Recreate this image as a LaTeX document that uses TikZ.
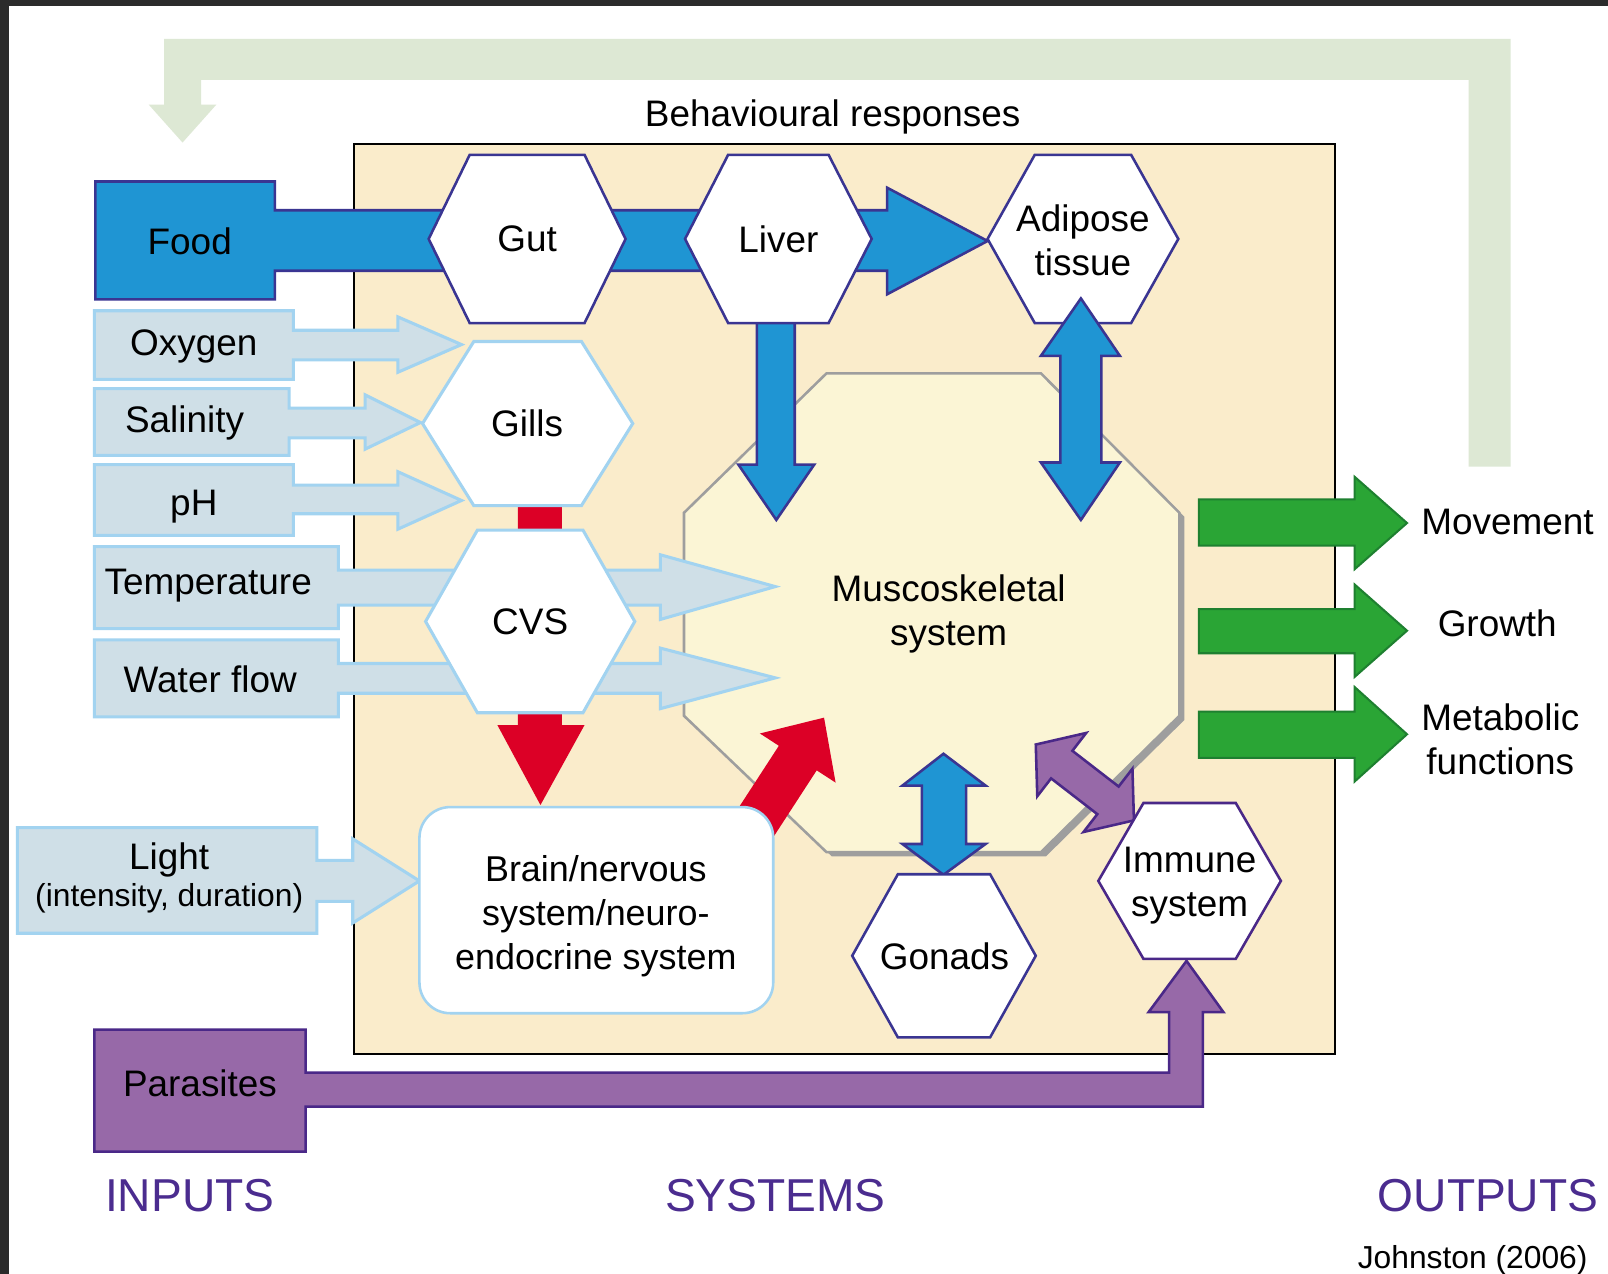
\documentclass[tikz,border=0pt]{standalone}
\usepackage{fontspec}
\setmainfont{Liberation Sans}

\definecolor{darkframe}{HTML}{2B2B2B}
\definecolor{paleleaf}{HTML}{DDE8D4}
\definecolor{sand}{HTML}{FAECCB}
\definecolor{cream}{HTML}{FBF5D5}
\definecolor{stone}{HTML}{9E9E9E}
\definecolor{sea}{HTML}{1F95D3}
\definecolor{navy}{HTML}{3A3592}
\definecolor{mist}{HTML}{CFDFE7}
\definecolor{sky}{HTML}{A2D3F0}
\definecolor{blood}{HTML}{DC0026}
\definecolor{leaf}{HTML}{2AA535}
\definecolor{darkleaf}{HTML}{1E8030}
\definecolor{plum}{HTML}{9769A8}
\definecolor{darkplum}{HTML}{4A2888}
\definecolor{ink}{HTML}{4B2C8F}

\tikzset{
  feedback/.style={fill=paleleaf},
  sysbox/.style={draw=black,line width=2pt,fill=sand},
  musclebox/.style={draw=stone,line width=2.5pt,fill=cream},
  foodflow/.style={draw=navy,line width=2.5pt,fill=sea},
  inflow/.style={draw=sky,line width=3pt,fill=mist},
  redflow/.style={fill=blood},
  blueflow/.style={draw=navy,line width=2.5pt,fill=sea},
  purpleflow/.style={draw=darkplum,line width=2.5pt,fill=plum},
  outflow/.style={draw=darkleaf,line width=2pt,fill=leaf},
  hexnavy/.style={draw=navy,line width=2.5pt,fill=white},
  hexsky/.style={draw=sky,line width=3pt,fill=white},
  hexviolet/.style={draw=darkplum,line width=2.5pt,fill=white},
  brainbox/.style={draw=sky,line width=2.5pt,fill=white,rounded corners=30pt},
  lbl/.style={font=\fontsize{36}{43}\selectfont,align=center,inner sep=0pt,text depth=0pt},
  sublbl/.style={font=\fontsize{31}{36}\selectfont,align=center,inner sep=0pt,text depth=0pt},
  headlbl/.style={font=\fontsize{45}{50}\selectfont,text=ink,inner sep=0pt,text depth=0pt}
}

% hexagon: style, centre x, centre y, half width, half top edge, half height
\newcommand{\hexcell}[6]{\draw[#1] ({#2-#4},#3) -- ({#2-#5},{#3-#6}) -- ({#2+#5},{#3-#6})
  -- ({#2+#4},#3) -- ({#2+#5},{#3+#6}) -- ({#2-#5},{#3+#6}) -- cycle;}

\begin{document}
\begin{tikzpicture}[x=1pt,y=-1pt]
        \useasboundingbox (0,0) rectangle (1568,1242);
        \fill[white] (0,0) rectangle (1568,1242);
        \fill[darkframe] (0,0) rectangle (1568,6);
        \fill[darkframe] (0,0) rectangle (9,1242);
        % draw the behaviour loop
        \fill[feedback] (1432,455) -- (1432,78) -- (196,78) -- (196,102) -- (211,102) -- (178,139)
          -- (145,102) -- (160,102) -- (160,38) -- (1473,38) -- (1473,455) -- cycle;
        % draw the systems box and the octagon
        \draw[sysbox] (345,140) rectangle (1302,1028);
        \begin{scope}[shift={(5,4)}]
          \fill[stone] (806,364) -- (1015,364) -- (1150,500) -- (1150,698) -- (1015,831) -- (806,831) -- (667,698) -- (667,500) -- cycle;
        \end{scope}
        \draw[musclebox] (806,364) -- (1015,364) -- (1150,500) -- (1150,698) -- (1015,831) -- (806,831) -- (667,698) -- (667,500) -- cycle;
        % food path
        \draw[foodflow] (93,177) -- (268,177) -- (268,205) -- (865,205) -- (865,183) -- (963,235) -- (865,287)
          -- (865,264) -- (268,264) -- (268,292) -- (93,292) -- cycle;
        % environmental inputs
        \draw[inflow] (92,303) -- (286,303) -- (286,322) -- (388,322) -- (388,309) -- (450,336) -- (388,363) -- (388,351) -- (286,351) -- (286,370) -- (92,370) -- cycle;
        \draw[inflow] (92,379) -- (282,379) -- (282,398) -- (356,398) -- (356,385) -- (410,412) -- (356,438) -- (356,427) -- (282,427) -- (282,444) -- (92,444) -- cycle;
        \draw[inflow] (92,453) -- (286,453) -- (286,473) -- (388,473) -- (388,460) -- (450,488) -- (388,516) -- (388,501) -- (286,501) -- (286,522) -- (92,522) -- cycle;
        \draw[inflow] (92,533) -- (330,533) -- (330,556) -- (644,556) -- (644,541) -- (756,572) -- (644,604) -- (644,590) -- (330,590) -- (330,613) -- (92,613) -- cycle;
        \draw[inflow] (92,624) -- (330,624) -- (330,647) -- (644,647) -- (644,632) -- (756,661) -- (644,691) -- (644,676) -- (330,676) -- (330,699) -- (92,699) -- cycle;
        \draw[inflow] (17,807) -- (309,807) -- (309,839) -- (344,839) -- (344,818) -- (409,859) -- (344,900) -- (344,879) -- (309,879) -- (309,910) -- (17,910) -- cycle;
        % gills -> cvs -> brain -> muscle
        \fill[redflow] (505,490) -- (548,490) -- (548,707) -- (570,707) -- (527,785) -- (485,707) -- (505,707) -- cycle;
        \begin{scope}[shift={(730,813)},rotate=57]
          \fill[redflow] (0,-22) -- (88,-22) -- (88,-44) -- (135,0) -- (88,44) -- (88,22) -- (0,22) -- cycle;
        \end{scope}
        % liver and gonads links
        \draw[blueflow] (738,314) -- (775,314) -- (775,453) -- (794,453) -- (757,507) -- (720,453) -- (738,453) -- cycle;
        \draw[blueflow] (920,735) -- (961,766) -- (942,766) -- (942,823) -- (961,823) -- (920,853) -- (880,823) -- (899,823) -- (899,766) -- (880,766) -- cycle;
        % parasites and immune link
        \draw[purpleflow] (92,1004) -- (298,1004) -- (298,1046) -- (1140,1046) -- (1140,987) -- (1120,987) -- (1157,937) -- (1193,987)
          -- (1173,987) -- (1173,1079) -- (298,1079) -- (298,1123) -- (92,1123) -- cycle;
        \begin{scope}[shift={(1010,726)},rotate=-37.7]
          \draw[purpleflow] (0,0) -- (32,-39) -- (32,-17) -- (89,-17) -- (89,-39) -- (121,0) -- (89,39) -- (89,17) -- (32,17) -- (32,39) -- cycle;
        \end{scope}
        % outputs
        \draw[outflow] (1169,487) -- (1321,487) -- (1321,465) -- (1372,510) -- (1321,555) -- (1321,532) -- (1169,532) -- cycle;
        \draw[outflow] (1169,594) -- (1321,594) -- (1321,570) -- (1372,615) -- (1321,660) -- (1321,637) -- (1169,637) -- cycle;
        \draw[outflow] (1169,694) -- (1321,694) -- (1321,670) -- (1372,716) -- (1321,762) -- (1321,739) -- (1169,739) -- cycle;
        % organ hexagons
        \hexcell{hexnavy}{514}{233}{96}{56}{82}
        \hexcell{hexnavy}{759}{233}{91}{49}{82}
        \hexcell{hexnavy}{1056}{233}{93}{47}{82}
        \hexcell{hexsky}{514.5}{413}{102.5}{52.5}{80}
        \hexcell{hexsky}{517}{606}{102}{51.5}{89}
        \hexcell{hexnavy}{920.5}{932}{89.5}{45}{79.5}
        \hexcell{hexviolet}{1160}{859}{89}{45}{76}
        \draw[brainbox] (409,787) rectangle (754,988);
        % adipose link sits on top
        \draw[blueflow] (1054,291) -- (1092,347) -- (1074,347) -- (1074,451) -- (1092,451) -- (1054,507) -- (1015,451) -- (1034,451) -- (1034,347) -- (1015,347) -- cycle;
        % labels
        \node[lbl] (behav) at (812,110) {Behavioural responses};
        \node[lbl] (food) at (185,235) {Food};
        \node[lbl] (oxygen) at (189,334) {Oxygen};
        \node[lbl] (salinity) at (180,409) {Salinity};
        \node[lbl] (ph) at (189,490) {pH};
        \node[lbl] (temp) at (203,567) {Temperature};
        \node[lbl] (water) at (205,662) {Water flow};
        \node[lbl] (light) at (165,835) {Light};
        \node[sublbl] (lightsub) at (165,873) {(intensity, duration)};
        \node[lbl] (parasites) at (195,1056) {Parasites};
        \node[lbl] (gut) at (514,233) {Gut};
        \node[lbl] (liver) at (759,233) {Liver};
        \node[lbl] (adipose) at (1056,234) {Adipose\\tissue};
        \node[lbl] (gills) at (514,413) {Gills};
        \node[lbl] (cvs) at (517,606) {CVS};
        \node[lbl] (muscle) at (925,595) {Muscoskeletal\\system};
        \node[lbl,font=\fontsize{35}{43}\selectfont] (brain) at (581,890) {Brain/nervous\\system/neuro-\\endocrine system};
        \node[lbl] (gonads) at (921,932) {Gonads};
        \node[lbl] (immune) at (1160,860) {Immune\\system};
        \node[lbl] (movement) at (1470,509) {Movement};
        \node[lbl] (growth) at (1460,608) {Growth};
        \node[lbl] (metabolic) at (1463,721) {Metabolic\\functions};
        \node[headlbl] (inputs) at (185,1166) {INPUTS};
        \node[headlbl] (systems) at (756,1166) {SYSTEMS};
        \node[headlbl] (outputs) at (1451,1166) {OUTPUTS};
        \node[sublbl] (source) at (1436,1226) {Johnston (2006)};
    \end{tikzpicture}
\end{document}
